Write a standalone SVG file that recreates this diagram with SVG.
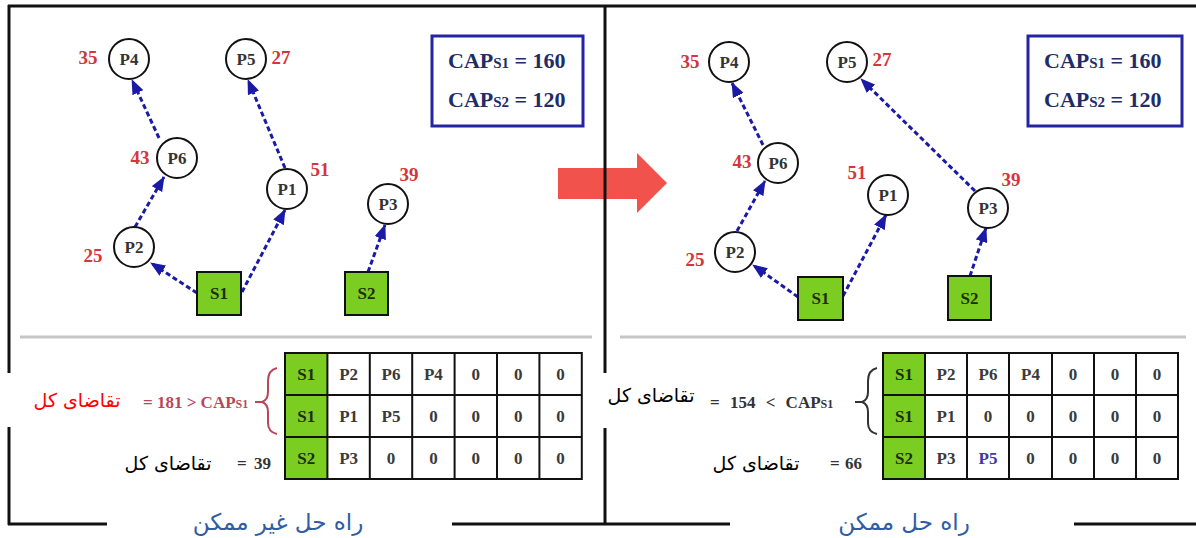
<svg xmlns="http://www.w3.org/2000/svg" width="1196" height="538" viewBox="0 0 1196 538">
<defs>
<marker id="ah" viewBox="0 0 15 12" refX="14" refY="6" markerWidth="15" markerHeight="12" markerUnits="userSpaceOnUse" orient="auto">
<path d="M0,0 L15,6 L0,12 z" fill="#1a1aa6"/>
</marker>
<style>
.bd{stroke:#111;stroke-width:3;fill:none}
.sep{stroke:#c6c6c6;stroke-width:3}
.node circle{fill:#fff;stroke:#111;stroke-width:2}
.node rect{fill:#7ccd22;stroke:#111;stroke-width:2}
.lbl{font-family:"Liberation Serif","DejaVu Serif",serif;font-weight:bold;font-size:17px;fill:#333;text-anchor:middle}
.slbl{font-family:"Liberation Serif","DejaVu Serif",serif;font-weight:bold;font-size:17px;fill:#1c2e0a;text-anchor:middle}
.num{font-family:"Liberation Serif","DejaVu Serif",serif;font-weight:bold;font-size:19px;fill:#d3363c;text-anchor:middle}
.edge{stroke:#1a1aa6;stroke-width:3;stroke-dasharray:5 3;fill:none;marker-end:url(#ah)}
.cap{fill:#fff;stroke:#2424a4;stroke-width:3}
.capt{font-family:"Liberation Serif","DejaVu Serif",serif;font-weight:bold;font-size:22px;fill:#1e2c68}
.grid{stroke:#111;stroke-width:2;fill:none}
.green{fill:#7ccd22}
.tt{font-family:"Liberation Serif","DejaVu Serif",serif;font-weight:bold;font-size:17px;fill:#3a3a3a;text-anchor:middle}
.ts{fill:#1c2e0a}
.fa{font-family:"DejaVu Sans","Noto Sans",sans-serif;font-size:19px;text-anchor:middle}
.eq{font-family:"Liberation Serif","DejaVu Serif",serif;font-weight:bold;font-size:17px}
.title{font-family:"DejaVu Sans","Noto Sans",sans-serif;font-size:23px;fill:#2f5ca4;text-anchor:middle}
</style>
</defs>
<rect width="1196" height="538" fill="#fff"/>

<!-- red transition arrow -->
<polygon id="transition-arrow" points="558,168 637,168 637,153 667,183 637,213 637,199 558,199" fill="#f2524c"/>

<!-- frame -->
<g id="frame">
<line class="bd" x1="8" y1="6" x2="1196" y2="6"/>
<line class="bd" x1="9" y1="5" x2="9" y2="373"/>
<line class="bd" x1="9" y1="427" x2="9" y2="525"/>
<line class="bd" x1="605" y1="5" x2="605" y2="373"/>
<line class="bd" x1="605" y1="428" x2="605" y2="525"/>
<line class="bd" x1="8" y1="524" x2="107" y2="524"/>
<line class="bd" x1="452" y1="524" x2="730" y2="524"/>
<line class="bd" x1="1074" y1="524" x2="1196" y2="524"/>
<line class="sep" x1="20" y1="337" x2="592" y2="337"/>
<line class="sep" x1="620" y1="337" x2="1186" y2="337"/>
</g>

<!-- connectors -->
<g id="connectors">
<line class="edge" x1="197" y1="293" x2="151" y2="263"/>
<line class="edge" x1="242" y1="292" x2="285" y2="210"/>
<line class="edge" x1="135" y1="227" x2="164" y2="177"/>
<line class="edge" x1="159" y1="138" x2="132" y2="80"/>
<line class="edge" x1="285" y1="168" x2="248" y2="80"/>
<line class="edge" x1="368" y1="272" x2="385" y2="225"/>
<line class="edge" x1="798" y1="297" x2="753" y2="265"/>
<line class="edge" x1="737" y1="231" x2="765" y2="181"/>
<line class="edge" x1="763" y1="145" x2="732" y2="83"/>
<line class="edge" x1="843" y1="296" x2="886" y2="215"/>
<line class="edge" x1="970" y1="276" x2="986" y2="228"/>
<line class="edge" x1="975" y1="191" x2="861" y2="79"/>
</g>

<!-- left panel nodes -->
<g id="L-P4" class="node"><circle cx="129" cy="59" r="20"/><text class="lbl" x="129" y="65">P4</text><text class="num" x="88" y="64">35</text></g>
<g id="L-P5" class="node"><circle cx="246" cy="59" r="20"/><text class="lbl" x="246" y="65">P5</text><text class="num" x="281" y="64">27</text></g>
<g id="L-P6" class="node"><circle cx="177" cy="158" r="20"/><text class="lbl" x="177" y="164">P6</text><text class="num" x="140" y="164">43</text></g>
<g id="L-P1" class="node"><circle cx="287" cy="189" r="20"/><text class="lbl" x="287" y="195">P1</text><text class="num" x="320" y="176">51</text></g>
<g id="L-P2" class="node"><circle cx="134" cy="247" r="20"/><text class="lbl" x="134" y="253">P2</text><text class="num" x="93" y="262">25</text></g>
<g id="L-P3" class="node"><circle cx="388" cy="204" r="20"/><text class="lbl" x="388" y="210">P3</text><text class="num" x="409" y="181">39</text></g>
<g id="L-S1" class="node"><rect x="197" y="272" width="44" height="43"/><text class="slbl" x="219" y="299">S1</text></g>
<g id="L-S2" class="node"><rect x="345" y="272" width="43" height="43"/><text class="slbl" x="366.5" y="299">S2</text></g>

<!-- right panel nodes -->
<g id="R-P4" class="node"><circle cx="729" cy="62" r="20"/><text class="lbl" x="729" y="68">P4</text><text class="num" x="690" y="68">35</text></g>
<g id="R-P5" class="node"><circle cx="847" cy="62" r="20"/><text class="lbl" x="847" y="68">P5</text><text class="num" x="882" y="66">27</text></g>
<g id="R-P6" class="node"><circle cx="778" cy="163" r="20"/><text class="lbl" x="778" y="169">P6</text><text class="num" x="742" y="168">43</text></g>
<g id="R-P1" class="node"><circle cx="888" cy="195" r="20"/><text class="lbl" x="888" y="201">P1</text><text class="num" x="857" y="179">51</text></g>
<g id="R-P2" class="node"><circle cx="735" cy="252" r="20"/><text class="lbl" x="735" y="258">P2</text><text class="num" x="695" y="266">25</text></g>
<g id="R-P3" class="node"><circle cx="988" cy="208" r="20"/><text class="lbl" x="988" y="214">P3</text><text class="num" x="1011" y="186">39</text></g>
<g id="R-S1" class="node"><rect x="798" y="277" width="45" height="43"/><text class="slbl" x="820.5" y="304">S1</text></g>
<g id="R-S2" class="node"><rect x="948" y="276" width="43" height="44"/><text class="slbl" x="969.5" y="304">S2</text></g>

<!-- capacity boxes -->
<g id="L-cap">
<rect class="cap" x="432" y="36" width="151" height="90"/>
<text class="capt" x="448" y="68">CAP<tspan font-size="15px">S1</tspan> = 160</text>
<text class="capt" x="448" y="107">CAP<tspan font-size="15px">S2</tspan> = 120</text>
</g>
<g id="R-cap">
<rect class="cap" x="1028" y="36" width="154" height="90"/>
<text class="capt" x="1044" y="68">CAP<tspan font-size="15px">S1</tspan> = 160</text>
<text class="capt" x="1044" y="107">CAP<tspan font-size="15px">S2</tspan> = 120</text>
</g>

<!-- left table -->
<g id="L-table">
<rect class="green" x="285" y="353" width="42.4" height="126"/>
<rect class="grid" x="285" y="353" width="296.8" height="126"/>
<path class="grid" d="M285,395H581.8M285,437H581.8M327.4,353V479M369.8,353V479M412.2,353V479M454.6,353V479M497,353V479M539.4,353V479"/>
<g class="tt">
<text class="ts" x="306.2" y="380">S1</text><text x="348.6" y="380">P2</text><text x="391" y="380">P6</text><text x="433.4" y="380">P4</text><text x="475.8" y="380">0</text><text x="518.2" y="380">0</text><text x="560.6" y="380">0</text>
<text class="ts" x="306.2" y="422">S1</text><text x="348.6" y="422">P1</text><text x="391" y="422">P5</text><text x="433.4" y="422">0</text><text x="475.8" y="422">0</text><text x="518.2" y="422">0</text><text x="560.6" y="422">0</text>
<text class="ts" x="306.2" y="464">S2</text><text x="348.6" y="464">P3</text><text x="391" y="464">0</text><text x="433.4" y="464">0</text><text x="475.8" y="464">0</text><text x="518.2" y="464">0</text><text x="560.6" y="464">0</text>
</g>
</g>

<!-- right table -->
<g id="R-table">
<rect class="green" x="883" y="353" width="42" height="126"/>
<rect class="grid" x="883" y="353" width="295" height="126"/>
<path class="grid" d="M883,395H1178M883,437H1178M925,353V479M967,353V479M1009,353V479M1052,353V479M1094,353V479M1136,353V479"/>
<g class="tt">
<text class="ts" x="904" y="380">S1</text><text x="946" y="380">P2</text><text x="988" y="380">P6</text><text x="1030.5" y="380">P4</text><text x="1073" y="380">0</text><text x="1115" y="380">0</text><text x="1157" y="380">0</text>
<text class="ts" x="904" y="422">S1</text><text x="946" y="422">P1</text><text x="988" y="422">0</text><text x="1030.5" y="422">0</text><text x="1073" y="422">0</text><text x="1115" y="422">0</text><text x="1157" y="422">0</text>
<text class="ts" x="904" y="464">S2</text><text x="946" y="464">P3</text><text x="988" y="464" fill="#3a3aa8">P5</text><text x="1030.5" y="464">0</text><text x="1073" y="464">0</text><text x="1115" y="464">0</text><text x="1157" y="464">0</text>
</g>
</g>

<!-- left annotations -->
<g id="L-notes">
<path d="M277,368 Q268,370 268,381 L268,392 Q268,400 262,402 L255,402 M262,402 Q268,404 268,412 L268,423 Q268,432 277,434" fill="none" stroke="#b8475a" stroke-width="2"/>
<text class="eq" x="143" y="408" fill="#b8475a">= 181 &gt; CAP<tspan font-size="12px">S1</tspan></text>
<text class="fa" x="77" y="407" fill="#ff0000">تقاضای کل</text>
<text class="fa" x="168" y="470" fill="#000">تقاضای کل</text>
<text class="eq" x="237" y="469" fill="#333" word-spacing="3">= 39</text>
</g>

<!-- right annotations -->
<g id="R-notes">
<path d="M877,368 Q868,370 868,381 L868,392 Q868,400 862,402 L855,402 M862,402 Q868,404 868,412 L868,423 Q868,432 877,434" fill="none" stroke="#333" stroke-width="2"/>
<text class="eq" x="710" y="408" fill="#333" word-spacing="6">= 154 &lt; CAP<tspan font-size="12px">S1</tspan></text>
<text class="fa" x="651" y="402" fill="#000">تقاضای کل</text>
<text class="fa" x="756" y="470" fill="#000">تقاضای کل</text>
<text class="eq" x="830" y="469" fill="#333" word-spacing="1">= 66</text>
</g>

<!-- titles -->
<text id="L-title" class="title" x="278" y="530">راه حل غیر ممکن</text>
<text id="R-title" class="title" x="904" y="530">راه حل ممکن</text>
</svg>
